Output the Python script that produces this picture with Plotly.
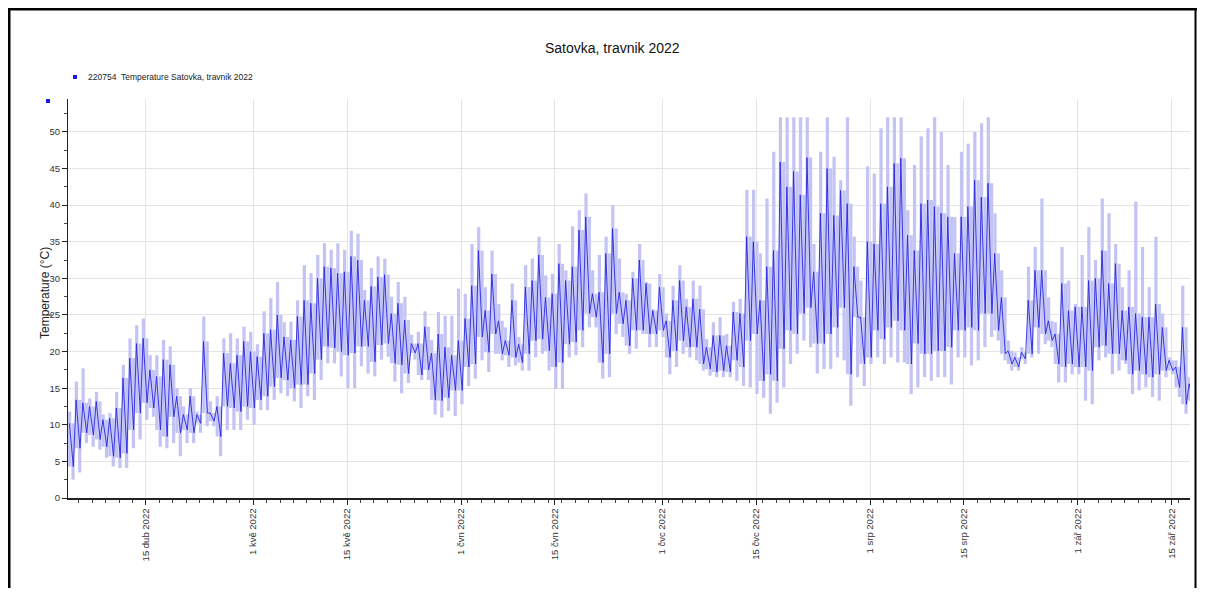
import pandas as pd
import plotly.graph_objects as go

# Daily afternoon peak of the dark line, following night low, and light-bar extents (°C)
peak = [10.2, 13.4, 13.0, 12.5, 13.2, 10.7, 10.9, 12.3, 16.4, 19.1, 21.1, 21.8, 17.5, 16.6, 18.9, 18.2,
        13.9, 11.4, 13.9, 11.4, 21.4, 11.6, 12.5, 19.8, 18.4, 19.5, 21.4, 20.0, 19.3, 22.5, 23.0, 25.0,
        22.0, 21.6, 24.8, 27.0, 26.6, 30.0, 31.6, 31.4, 30.7, 30.9, 33.0, 32.5, 27.0, 28.9, 30.2, 30.5,
        25.2, 26.6, 24.3, 21.1, 21.1, 23.4, 19.8, 22.4, 20.6, 19.5, 21.5, 24.5, 29.0, 33.8, 25.6, 30.6,
        24.2, 21.5, 27.0, 21.0, 28.8, 29.7, 33.2, 27.4, 27.9, 32.0, 29.7, 31.6, 36.6, 38.4, 27.9, 28.1,
        33.4, 36.8, 28.1, 27.0, 30.0, 32.5, 29.3, 25.6, 28.8, 24.2, 27.0, 29.7, 26.1, 27.2, 25.8, 20.6,
        22.2, 22.2, 20.8, 25.4, 25.2, 35.7, 35.0, 27.0, 31.6, 33.8, 45.9, 42.5, 44.6, 41.4, 46.5, 30.9,
        38.9, 45.0, 38.6, 42.0, 40.2, 31.6, 24.7, 35.0, 34.7, 40.2, 42.5, 45.7, 46.4, 35.9, 33.8, 40.2,
        40.7, 39.8, 38.9, 38.4, 33.4, 38.4, 39.8, 43.4, 41.1, 43.0, 33.4, 27.4, 20.1, 19.2, 19.9, 27.0,
        31.1, 31.1, 24.2, 22.4, 29.3, 25.6, 26.1, 26.1, 29.7, 30.0, 33.8, 29.3, 32.0, 25.6, 26.1, 25.2,
        24.7, 24.7, 26.5, 23.3, 18.8, 17.9, 23.3, 15.6]
low = [4.3, 6.8, 8.9, 8.6, 8.0, 7.0, 5.7, 5.5, 6.1, 9.3, 11.6, 13.0, 12.3, 9.3, 8.4, 11.1,
       8.9, 9.3, 8.9, 10.2, 11.6, 10.5, 8.4, 12.5, 12.3, 11.8, 12.5, 12.3, 13.4, 13.9, 15.2, 16.4,
       16.1, 15.0, 15.5, 15.5, 17.0, 18.9, 20.7, 20.5, 20.0, 19.5, 19.8, 20.7, 20.7, 18.6, 20.9, 21.1,
       18.4, 18.2, 17.0, 19.8, 16.8, 17.5, 13.4, 13.3, 13.7, 14.7, 14.7, 17.9, 18.3, 22.0, 19.9, 22.4,
       19.7, 19.5, 19.2, 18.5, 19.7, 21.5, 21.7, 20.1, 17.9, 18.5, 21.0, 21.3, 22.9, 25.2, 24.7, 18.5,
       19.7, 25.2, 23.8, 20.8, 22.9, 22.9, 22.4, 22.4, 22.9, 19.2, 20.1, 21.5, 20.6, 20.6, 18.3, 17.6,
       17.2, 17.4, 17.2, 18.8, 17.9, 21.5, 22.4, 16.0, 16.9, 16.0, 20.4, 22.9, 22.4, 25.2, 26.0, 21.1,
       21.1, 22.4, 23.3, 26.0, 16.9, 24.7, 18.3, 19.2, 22.9, 21.7, 23.3, 24.2, 22.9, 18.3, 21.1, 19.7,
       19.7, 20.1, 20.1, 20.6, 22.9, 22.9, 23.3, 22.9, 25.2, 25.2, 22.9, 19.7, 18.3, 17.9, 19.0, 19.7,
       23.3, 22.4, 21.5, 18.3, 17.9, 18.3, 17.9, 17.9, 17.4, 20.6, 20.8, 19.7, 19.7, 18.8, 16.9, 17.4,
       16.9, 16.5, 16.9, 17.4, 17.4, 15.1, 12.8, 13.3]
bar_hi = [11.8, 15.9, 17.7, 13.6, 14.5, 11.4, 11.6, 14.5, 18.2, 21.8, 23.6, 24.5, 19.5, 19.5, 21.6, 20.7,
          15.0, 12.5, 15.0, 11.8, 24.8, 13.2, 13.9, 21.8, 22.5, 21.8, 23.4, 22.7, 21.0, 25.5, 27.3, 29.5,
          24.0, 24.1, 27.0, 31.8, 30.7, 33.2, 34.8, 33.9, 34.8, 33.9, 36.5, 36.1, 28.4, 31.4, 33.0, 32.7,
          27.5, 29.5, 27.5, 22.3, 22.7, 25.5, 21.6, 25.4, 24.9, 24.9, 28.6, 27.9, 34.7, 37.0, 28.8, 33.8,
          26.5, 23.3, 29.3, 22.0, 31.8, 32.7, 35.7, 30.4, 30.6, 34.7, 31.1, 37.1, 39.3, 41.6, 31.1, 33.2,
          35.7, 40.0, 32.7, 27.9, 30.9, 34.7, 29.5, 25.8, 30.6, 25.2, 29.0, 31.8, 27.2, 29.7, 29.0, 21.7,
          24.0, 24.7, 22.4, 26.8, 27.2, 42.1, 42.1, 33.4, 40.9, 47.3, 52.0, 52.0, 52.0, 52.0, 52.0, 34.7,
          47.3, 52.0, 46.6, 43.4, 52.0, 35.7, 29.7, 45.3, 44.3, 50.5, 52.0, 52.0, 52.0, 39.3, 45.5, 49.4,
          50.5, 52.0, 50.0, 45.5, 38.4, 47.3, 48.4, 50.0, 51.2, 52.0, 38.9, 31.1, 21.5, 19.9, 20.6, 31.6,
          34.3, 40.9, 27.4, 24.0, 34.3, 29.7, 26.5, 33.2, 37.0, 32.5, 40.9, 38.9, 34.7, 28.8, 31.1, 40.5,
          34.3, 28.8, 35.7, 25.2, 19.2, 18.8, 29.0, 16.5]
bar_lo = [2.5, 3.5, 7.5, 7.0, 6.6, 5.5, 4.3, 4.1, 4.1, 6.8, 8.0, 10.7, 11.1, 7.0, 6.8, 7.5,
          5.7, 7.5, 7.5, 8.9, 9.8, 9.8, 5.7, 9.3, 9.3, 9.3, 10.7, 10.0, 12.0, 12.0, 13.4, 14.3,
          13.9, 13.2, 12.3, 13.9, 13.4, 16.1, 18.4, 18.4, 16.6, 15.0, 15.0, 18.0, 17.0, 16.6, 18.9, 19.3,
          15.9, 14.3, 15.7, 18.9, 16.1, 16.1, 11.4, 11.0, 11.9, 11.2, 12.8, 15.3, 16.3, 18.8, 17.2, 19.7,
          18.8, 17.9, 18.1, 17.4, 17.4, 19.2, 19.7, 17.4, 14.9, 14.9, 19.2, 19.5, 20.6, 23.3, 23.3, 16.3,
          16.5, 22.4, 22.0, 19.7, 20.4, 22.4, 20.6, 20.6, 22.0, 16.9, 17.9, 19.7, 19.2, 18.8, 17.4, 16.7,
          16.5, 16.5, 16.5, 16.0, 15.3, 15.1, 14.2, 13.7, 11.5, 13.0, 15.1, 18.3, 19.7, 21.5, 20.6, 17.0,
          17.6, 17.6, 19.2, 18.8, 12.6, 16.5, 15.3, 18.3, 19.2, 18.3, 19.2, 18.5, 18.5, 14.2, 15.1, 16.5,
          16.0, 16.5, 16.5, 15.5, 19.2, 19.2, 18.1, 18.8, 20.6, 22.0, 21.5, 18.8, 17.4, 17.4, 18.3, 19.2,
          19.7, 21.0, 20.6, 15.8, 15.8, 16.9, 16.9, 13.3, 12.8, 18.8, 19.2, 16.9, 17.4, 18.3, 14.2, 14.7,
          15.1, 13.8, 13.3, 16.5, 16.9, 13.8, 11.5, 12.0]

tick_dates = ["2022-04-15", "2022-05-01", "2022-05-15", "2022-06-01", "2022-06-15", "2022-07-01",
              "2022-07-15", "2022-08-01", "2022-08-15", "2022-09-01", "2022-09-15"]
tick_labels = ["15 dub 2022", "1 kvě 2022", "15 kvě 2022", "1 čvn 2022", "15 čvn 2022", "1 čvc 2022",
               "15 čvc 2022", "1 srp 2022", "15 srp 2022", "1 zář 2022", "15 zář 2022"]

days = pd.date_range("2022-04-03", periods=len(peak), freq="D")
DAY_MS = 86400000

# line: afternoon peak then following night low
line_x, line_y = [], []
for d, p, l in zip(days, peak, low):
    line_x += [d + pd.Timedelta(hours=14), d + pd.Timedelta(hours=28)]
    line_y += [p, l]

# light range bars: afternoon bar (night low .. day max) and night bar (night min .. day peak)
bx, bbase, bh = [], [], []
for d, p, l, hi, lo in zip(days, peak, low, bar_hi, bar_lo):
    bx.append(d + pd.Timedelta(hours=15))
    bbase.append(l)
    bh.append(hi - l)
    bx.append(d + pd.Timedelta(hours=27))
    bbase.append(lo)
    bh.append(p - lo)

fig = go.Figure()
fig.add_trace(go.Bar(x=bx, y=bh, base=bbase, width=0.48 * DAY_MS,
                     marker=dict(color="#c3c3f4", line=dict(width=0)), hoverinfo="skip",
                     showlegend=False))
fig.add_trace(go.Scatter(x=line_x, y=line_y, mode="lines",
                         line=dict(color="#2626e2", width=0.9), showlegend=False))

# page body has an 8px margin; figure coordinates are reference pixels minus OFF
OFF = 8
W, H = 1189, 580
L, T = 68 - OFF, 99 - OFF
R = W - (1190 - OFF)
B = H - (498 - OFF)
pw, ph = W - L - R, H - T - B


def px(x):
    return (x - OFF - L) / pw


def py(y):
    return (H - B - (y - OFF)) / ph


font = "Liberation Sans, Arial, sans-serif"

fig.update_layout(
    width=W, height=H,
    margin=dict(l=L, r=R, t=T, b=B),
    paper_bgcolor="white", plot_bgcolor="white",
    barmode="overlay",
    font=dict(family=font, size=9, color="#333333"),
    showlegend=False,
    xaxis=dict(
        type="date",
        range=["2022-04-03 09:00", "2022-09-17 17:00"],
        tickvals=tick_dates, ticktext=tick_labels, tickangle=-90,
        showgrid=True, gridcolor="#e4e4e4", gridwidth=1,
        ticks="outside", ticklen=5, tickcolor="#222222",
        showline=True, linecolor="#222222", linewidth=1.5,
        tickfont=dict(size=9.5, color="#333333"),
        minor=dict(dtick=2 * DAY_MS, tick0="2022-04-01", ticks="outside", ticklen=3,
                   tickcolor="#444444", showgrid=False),
        zeroline=False,
    ),
    yaxis=dict(
        range=[0, 54.5], dtick=5, tick0=0,
        showgrid=True, gridcolor="#e4e4e4", gridwidth=1,
        ticks="outside", ticklen=5, tickcolor="#222222",
        showline=True, linecolor="#222222", linewidth=1,
        tickfont=dict(size=9.5, color="#333333"),
        minor=dict(dtick=2.5, ticks="outside", ticklen=3, tickcolor="#444444", showgrid=False),
        zeroline=False,
    ),
    shapes=[
        dict(type="line", xref="paper", yref="paper", x0=px(9), x1=px(9), y0=py(8), y1=py(600),
             line=dict(color="black", width=3)),
        dict(type="line", xref="paper", yref="paper", x0=px(8), x1=px(1197), y0=py(9), y1=py(9),
             line=dict(color="black", width=3)),
        dict(type="line", xref="paper", yref="paper", x0=px(1195.5), x1=px(1195.5), y0=py(8), y1=py(600),
             line=dict(color="black", width=2)),
        dict(type="rect", xref="paper", yref="paper", x0=px(73), x1=px(77), y0=py(75), y1=py(79),
             fillcolor="#1a1ae6", line=dict(width=0)),
        dict(type="rect", xref="paper", yref="paper", x0=px(46), x1=px(50), y0=py(99), y1=py(103),
             fillcolor="#1a1ae6", line=dict(width=0)),
    ],
    annotations=[
        dict(text="Satovka, travnik 2022", xref="paper", yref="paper", x=px(612), y=py(48),
             showarrow=False, font=dict(size=14, color="#111111", family=font),
             xanchor="center", yanchor="middle"),
        dict(text="220754  Temperature Satovka, travnik 2022", xref="paper", yref="paper",
             x=px(86), y=py(77), showarrow=False, font=dict(size=8.5, color="#222222", family=font),
             xanchor="left", yanchor="middle"),
        dict(text="Temperature (°C)", xref="paper", yref="paper", x=px(45), y=py(293),
             showarrow=False, textangle=-90, font=dict(size=12, color="#222222", family=font),
             xanchor="center", yanchor="middle"),
    ],
)

fig.write_html("out.html")
